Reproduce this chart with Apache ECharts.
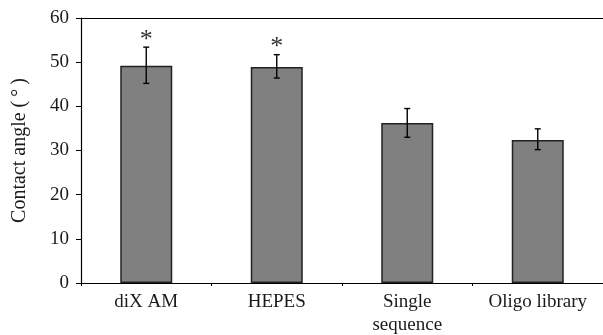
<!DOCTYPE html>
<html>
<head>
<meta charset="utf-8">
<script src="https://cdn.jsdelivr.net/npm/echarts@6/dist/echarts.min.js"></script>
<style>
  html, body { margin: 0; padding: 0; background: #fff; }
  #chart { width: 603px; height: 335px; }
</style>
</head>
<body>
<div id="chart"></div>
<script>
// Contact angle per surface treatment, mean ± SD
const categories = ['diX AM', 'HEPES', 'Single\nsequence', 'Oligo library'];
const meanAngle = [49.2, 48.9, 36.2, 32.4];
const errUpper = [53.4, 51.7, 39.5, 34.9];
const errLower = [45.2, 46.4, 33.0, 30.2];
const significant = [true, true, false, false];
const yTicks = { min: 0, max: 60, step: 10 };

const FONT = '"Liberation Serif", "DejaVu Serif", serif';
const chart = echarts.init(document.getElementById('chart'), null, { renderer: 'canvas' });

const errData = categories.map((c, i) => [i, errLower[i], errUpper[i], significant[i] ? 1 : 0]);

chart.setOption({
  animation: false,
  backgroundColor: '#ffffff',
  grid: { left: 81, right: 0, top: 18, bottom: 52, outerBoundsMode: 'none', containLabel: false },
  xAxis: [{
    type: 'category',
    data: categories,
    boundaryGap: true,
    axisLine: { show: true, lineStyle: { color: '#000', width: 1.2 } },
    axisTick: { show: true, length: 3, alignWithLabel: false, lineStyle: { color: '#000' } },
    axisLabel: {
      interval: 0, color: '#1a1a1a', fontFamily: FONT, fontSize: 19,
      lineHeight: 23, margin: 8
    }
  }, {
    type: 'category',
    data: categories,
    position: 'top',
    axisLine: { show: true, lineStyle: { color: '#000', width: 1.2 } },
    axisTick: { show: false },
    axisLabel: { show: false }
  }],
  yAxis: {
    type: 'value',
    min: yTicks.min, max: yTicks.max, interval: yTicks.step,
    name: 'Contact angle (\u2009°\u2009)',
    nameLocation: 'middle',
    nameRotate: 90,
    nameGap: 51,
    nameTextStyle: { color: '#1a1a1a', fontFamily: FONT, fontSize: 20 },
    splitLine: { show: false },
    axisLine: { show: true, lineStyle: { color: '#000', width: 1.2 } },
    axisTick: { show: true, length: 5, lineStyle: { color: '#000' } },
    axisLabel: { color: '#1a1a1a', fontFamily: FONT, fontSize: 19, margin: 12 }
  },
  series: [{
    type: 'bar',
    data: meanAngle,
    barWidth: 52,
    itemStyle: { color: '#808080', borderColor: '#222', borderWidth: 1.5 }
  }, {
    type: 'custom',
    data: errData,
    z: 10,
    renderItem: function (params, api) {
      const x = api.value(0);
      const lo = api.coord([x, api.value(1)]);
      const hi = api.coord([x, api.value(2)]);
      const cap = 3;
      const style = { stroke: '#000', lineWidth: 1.4 };
      const children = [
        { type: 'line', shape: { x1: lo[0], y1: lo[1], x2: hi[0], y2: hi[1] }, style },
        { type: 'line', shape: { x1: lo[0] - cap, y1: lo[1], x2: lo[0] + cap, y2: lo[1] }, style },
        { type: 'line', shape: { x1: hi[0] - cap, y1: hi[1], x2: hi[0] + cap, y2: hi[1] }, style }
      ];
      if (api.value(3)) {
        children.push({
          type: 'text',
          style: {
            text: '*', x: hi[0], y: hi[1] + 6,
            fill: '#333', font: '26px ' + FONT,
            textAlign: 'center', textVerticalAlign: 'bottom'
          }
        });
      }
      return { type: 'group', children };
    }
  }]
});
</script>
</body>
</html>
